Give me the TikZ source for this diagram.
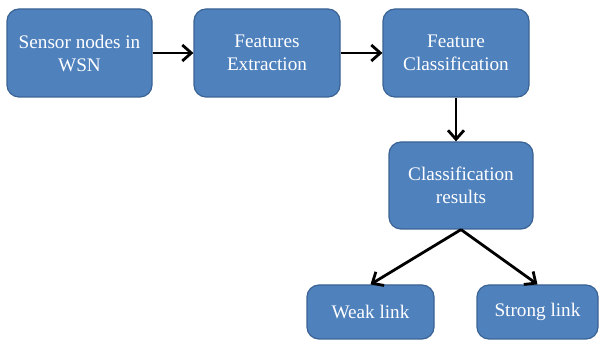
\documentclass[tikz,border=0pt]{standalone}
\usepackage{fontspec}
\setmainfont{Liberation Serif}
\usetikzlibrary{arrows.meta}
\definecolor{boxfill}{HTML}{4F81BD}
\definecolor{boxline}{HTML}{3A6394}
\begin{document}
\begin{tikzpicture}[x=0.5pt,y=-0.5pt,
  blk/.style={draw=boxline,line width=0.6pt,fill=boxfill,rounded corners=6pt,
    text=white,align=center,inner sep=0pt,
    font=\fontsize{9.6}{11.5}\selectfont},
  conn/.style={line width=1.4pt,-{Straight Barb[length=4.5pt,width=8pt,line width=1.4pt]}}]
\useasboundingbox (0,0) rectangle (600,341);
\node[blk,minimum width=72.5pt,minimum height=44pt] (a) at (79.5,53) {Sensor nodes in\\WSN};
\node[blk,minimum width=73pt,minimum height=44pt] (b) at (267,53) {Features\\Extraction};
\node[blk,minimum width=73pt,minimum height=44pt] (c) at (456,53) {Feature\\Classification};
\node[blk,minimum width=72pt,minimum height=43.5pt] (d) at (461,185.5) {Classification\\results};
\node[blk,minimum width=63.5pt,minimum height=27pt] (e) at (370.5,312) {Weak link};
\node[blk,minimum width=60.5pt,minimum height=27pt] (f) at (537.5,312) {Strong link};
\draw[conn] (a) -- (b);
\draw[conn] (b) -- (c);
\draw[conn] (c.south) -- (c.south |- d.north);
\draw[conn] (d.south) -- (e.north);
\draw[conn] (d.south) -- (f.north);
\end{tikzpicture}
\end{document}
